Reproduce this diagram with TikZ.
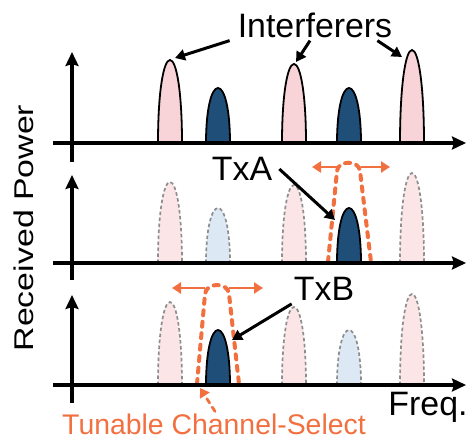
\documentclass[tikz,border=0pt]{standalone}
\usepackage{fontspec}
\setmainfont{Liberation Sans}
\usetikzlibrary{arrows.meta}

\definecolor{txblue}{HTML}{1F4E79}
\definecolor{intpink}{HTML}{F8D3D7}
\definecolor{fadepink}{HTML}{FCE5E7}
\definecolor{fadeblue}{HTML}{DCE9F5}
\definecolor{tuneorange}{HTML}{F2703F}
\definecolor{ghostgrey}{HTML}{8E8E8E}

% spectral bump: style, centre x, top y, base y
\newcommand{\drawbump}[4]{%
  \path[#1] ({#2-12},#4) .. controls ({#2-12},{#4-0.62*(#4-#3)}) and ({#2-6.5},#3) .. (#2,#3)
    .. controls ({#2+6.5},#3) and ({#2+12},{#4-0.62*(#4-#3)}) .. ({#2+12},#4);}

\tikzset{
  solidpink/.style={fill=intpink, draw=black, line width=1.8bp},
  solidblue/.style={fill=txblue, draw=black, line width=1.8bp},
  ghostpink/.style={fill=fadepink, draw=ghostgrey, line width=1.7bp, dash pattern=on 3.5bp off 2.5bp},
  ghostblue/.style={fill=fadeblue, draw=ghostgrey, line width=1.7bp, dash pattern=on 3.5bp off 2.5bp},
  axisline/.style={line width=4.5bp, -{Stealth[length=14bp,width=13bp,inset=2bp]}},
  ann/.style={line width=3bp, -{Triangle[length=10bp,width=11bp]}},
  filt/.style={draw=tuneorange, line width=4bp, line cap=round, dash pattern=on 5bp off 6.5bp},
  tunearrow/.style={draw=tuneorange, line width=2.8bp, -{Triangle[length=9bp,width=11bp]}},
  lbl/.style={font=\fontsize{34}{38}\selectfont, inner sep=0pt},
}

\begin{document}
\begin{tikzpicture}[x=1bp, y=-1bp]
\path[use as bounding box, fill=white] (0,0) rectangle (467,439);

% ---------- panel 1: all signals ----------
\drawbump{solidpink}{170}{60}{143}
\drawbump{solidblue}{218}{88}{143}
\drawbump{solidpink}{294}{64}{143}
\drawbump{solidblue}{349}{88}{143}
\drawbump{solidpink}{412}{50}{143}
\draw[axisline] (72,162) -- (72,52);
\draw[axisline] (53,143) -- (466,143);

% ---------- panel 2: TxA selected ----------
\drawbump{ghostpink}{170}{182}{263}
\drawbump{ghostblue}{218}{208}{263}
\drawbump{ghostpink}{294}{185}{263}
\drawbump{solidblue}{349}{208}{263}
\drawbump{ghostpink}{412}{173}{263}
\draw[tunearrow] (337,167) -- (312,167);
\draw[tunearrow] (361,167) -- (390,167);
\draw[filt] (328,262) -- (337,171) .. controls (338,160) and (359,160) .. (360,171) -- (371,262);
\draw[axisline] (72,280) -- (72,175);
\draw[axisline] (53,263) -- (466,263);

% ---------- panel 3: TxB selected ----------
\drawbump{ghostpink}{170}{302}{385}
\drawbump{solidblue}{218}{330}{385}
\drawbump{ghostpink}{294}{307}{385}
\drawbump{ghostblue}{349}{330}{385}
\drawbump{ghostpink}{412}{294}{385}
\draw[tunearrow] (205,288) -- (172,288);
\draw[tunearrow] (229,288) -- (263,288);
\draw[filt] (197,384) -- (205,294) .. controls (206,282) and (228,282) .. (229,294) -- (239,384);
\draw[axisline] (72,403) -- (72,295);
\draw[axisline] (53,385) -- (466,385);

% ---------- labels ----------
\node[lbl] (interf) at (315,25) {Interferers};
\node[lbl] (txa) at (242,169) {TxA};
\node[lbl] (txb) at (324,289) {TxB};
\node[lbl] (freq) at (428,407) {Freq.};
\node[lbl, text=tuneorange, font=\fontsize{28.5}{32}\selectfont] (tune) at (214,424) {Tunable Channel-Select};
\node[lbl, rotate=90] (ylab) at (24,228) {\scalebox{1}[0.8]{Received Power}};

% annotation targets
\coordinate (i1) at (175,58);
\coordinate (i2) at (296,62);
\coordinate (i3) at (402,57);
\coordinate (ta) at (335,220);
\coordinate (tb) at (232,340);
\coordinate (tsel) at (200,388);

\draw[ann] ([xshift=-8bp,yshift=-3bp]interf.south west) -- (i1);
\draw[ann] ([xshift=-5bp,yshift=-3bp]interf.south) -- (i2);
\draw[ann] ([xshift=-15bp,yshift=-3bp]interf.south east) -- (i3);
\draw[ann] ([xshift=7bp]txa.east) -- (ta);
\draw[ann] ([xshift=-2bp,yshift=-3bp]txb.south west) -- (tb);
\draw[tunearrow, line cap=round, dash pattern=on 5bp off 5bp] ([xshift=1bp,yshift=2bp]tune.north) -- (tsel);
\end{tikzpicture}
\end{document}
